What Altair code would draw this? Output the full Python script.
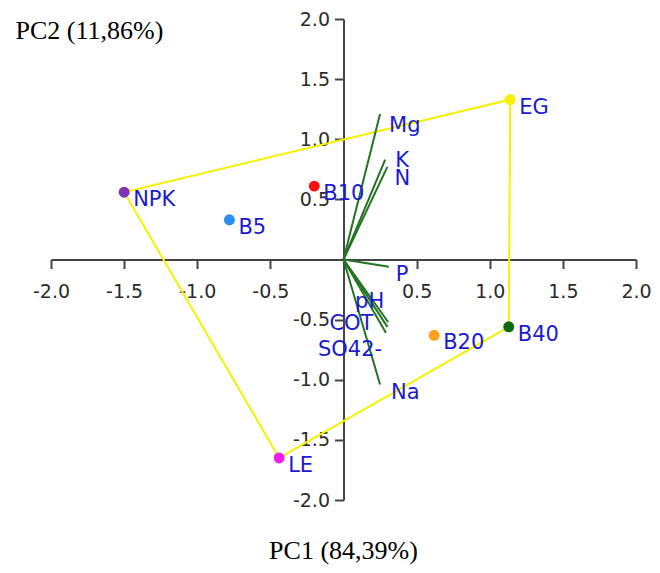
import altair as alt
import pandas as pd

# ---- data ----
obs_names = ["NPK", "B5", "B10", "EG", "B20", "B40", "LE"]
obs_pc1 = [-1.50, -0.78, -0.20, 1.14, 0.62, 1.13, -0.44]
obs_pc2 = [0.56, 0.33, 0.61, 1.33, -0.63, -0.56, -1.65]
obs_colors = ["#7f35b5", "#2a8ff0", "#ff1010", "#f7f000", "#ffa01e", "#0b6b0b", "#f01cf0"]

hull_names = ["NPK", "EG", "B40", "LE", "NPK"]

var_names = ["Mg", "K", "N", "P", "pH", "COT", "SO42-", "Na"]
var_pc1 = [0.25, 0.285, 0.30, 0.31, 0.305, 0.30, 0.29, 0.25]
var_pc2 = [1.21, 0.83, 0.77, -0.06, -0.52, -0.56, -0.61, -1.04]

tick_values = [-2.0, -1.5, -1.0, -0.5, 0.5, 1.0, 1.5, 2.0]
x_title = "PC1 (84,39%)"
y_title = "PC2 (11,86%)"

# ---- styles ----
W, H = 585, 481
PAD_L, PAD_T = 43, 11
LABEL_FONT = "DejaVu Sans"
LABEL_SIZE = 21
LABEL_COLOR = "#1a1ad0"
VEC_COLOR = "#237323"
HULL_COLOR = "#f7f000"
var_label_offsets = {
    "Mg": (9, 12), "K": (10, 1), "N": (7, 12), "P": (7, 8),
    "pH": (-33, -20), "COT": (-58, -3), "SO42-": (-68, 17), "Na": (11, 8),
}

obs = pd.DataFrame({"name": obs_names, "pc1": obs_pc1, "pc2": obs_pc2})
hull = obs.set_index("name").loc[hull_names].reset_index()
hull["order"] = range(len(hull))
var = pd.DataFrame({"name": var_names, "pc1": var_pc1, "pc2": var_pc2})

xscale = alt.Scale(domain=[-2, 2], nice=False, zero=False)
yscale = alt.Scale(domain=[-2, 2], nice=False, zero=False)

axis_common = dict(
    values=tick_values, grid=False,
    labelExpr="(datum.value < 0 ? '-' : '') + format(abs(datum.value), '.1f')",
    domainColor="#444444", domainWidth=2, tickColor="#444444", tickWidth=2,
    tickSize=9, labelFont=LABEL_FONT, labelFontSize=19, labelColor="#2b2b2b",
    titleFont="Liberation Serif", titleFontSize=26, titleFontWeight="normal",
    titleColor="#000000", labelFlush=False,
)

# axis titles placed at page positions (x-title centre ~ (343, 550), y-title left ~ (15, 30))
X = alt.X("pc1:Q", scale=xscale, title=x_title,
          axis=alt.Axis(orient="bottom", offset=-H / 2, labelPadding=14,
                        titleX=343 - 8 - PAD_L, titleY=550 - 8 - PAD_T - H / 2,
                        titleAlign="center", titleBaseline="middle", **axis_common))
Y = alt.Y("pc2:Q", scale=yscale, title=y_title,
          axis=alt.Axis(orient="left", offset=-W / 2, labelPadding=5,
                        titleX=15 - 8 - PAD_L - W / 2, titleY=30 - 8 - PAD_T,
                        titleAngle=0, titleAlign="left",
                        titleBaseline="middle", **axis_common))

hull_layer = alt.Chart(hull).mark_line(color=HULL_COLOR, strokeWidth=2).encode(
    x=X, y=Y, order="order:Q")

vec_layer = alt.Chart(var).transform_calculate(zero="0").mark_rule(
    color=VEC_COLOR, strokeWidth=2).encode(
    x=alt.X("zero:Q", scale=xscale), y=alt.Y("zero:Q", scale=yscale),
    x2="pc1:Q", y2="pc2:Q")

pts_layer = alt.Chart(obs).mark_circle(size=120, opacity=1).encode(
    x=alt.X("pc1:Q", scale=xscale), y=alt.Y("pc2:Q", scale=yscale),
    color=alt.Color("name:N", scale=alt.Scale(domain=obs_names, range=obs_colors),
                    legend=None))

obs_text = alt.Chart(obs).mark_text(
    align="left", baseline="middle", dx=9, dy=8, font=LABEL_FONT,
    fontSize=LABEL_SIZE, color=LABEL_COLOR).encode(
    x=alt.X("pc1:Q", scale=xscale), y=alt.Y("pc2:Q", scale=yscale), text="name:N")

var_texts = []
for nm, (ddx, ddy) in var_label_offsets.items():
    var_texts.append(
        alt.Chart(var).transform_filter(alt.datum.name == nm).mark_text(
            align="left", baseline="middle", dx=ddx, dy=ddy, font=LABEL_FONT,
            fontSize=LABEL_SIZE, color=LABEL_COLOR).encode(
            x=alt.X("pc1:Q", scale=xscale), y=alt.Y("pc2:Q", scale=yscale),
            text="name:N"))

chart = alt.layer(hull_layer, vec_layer, pts_layer, obs_text, *var_texts).properties(
    width=W, height=H,
    autosize=alt.AutoSizeParams(type="none"),
    padding={"left": PAD_L, "top": PAD_T, "right": 644 - PAD_L - W,
             "bottom": 557 - PAD_T - H},
    background="white",
).configure_view(stroke=None)

chart.save("out.html", embed_options={"renderer": "svg", "actions": False})
